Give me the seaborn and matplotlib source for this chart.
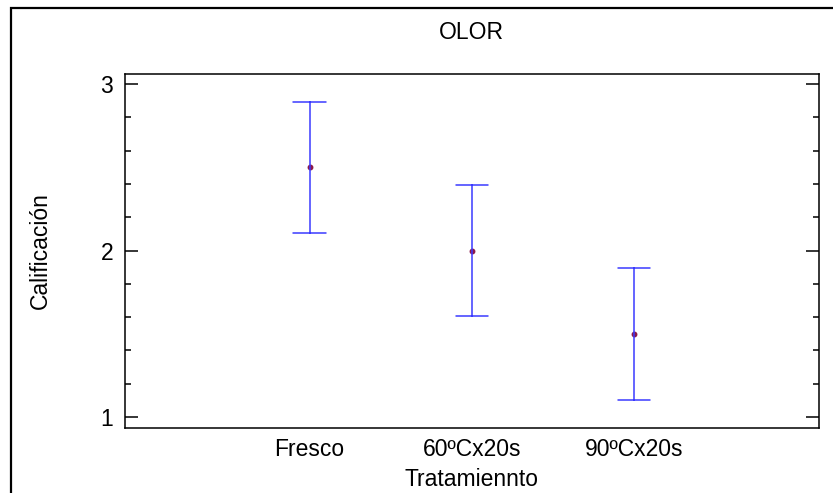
import matplotlib
matplotlib.use("Agg")
import matplotlib.pyplot as plt
import seaborn as sns
import pandas as pd
from matplotlib.patches import Rectangle
from matplotlib.ticker import MultipleLocator

categories = ["Fresco", "60ºCx20s", "90ºCx20s"]
means = [2.5, 2.0, 1.5]
lower = [2.105, 1.607, 1.105]
upper = [2.895, 2.393, 1.895]

rows = []
for c, lo, m, hi in zip(categories, lower, means, upper):
    for v in (lo, m, hi):
        rows.append({"Tratamiennto": c, "Calificación": v})
df = pd.DataFrame(rows)

sns.set_theme(style="white")
plt.rcParams["font.family"] = ["Liberation Sans", "DejaVu Sans"]
plt.rcParams["text.color"] = "black"
plt.rcParams["axes.labelcolor"] = "black"
plt.rcParams["xtick.color"] = "black"
plt.rcParams["ytick.color"] = "black"

FS = 16.5

fig = plt.figure(figsize=(8.33, 4.93), dpi=100)
ax = fig.add_axes([0.150, 0.1318, 0.8326, 0.718])

sns.pointplot(data=df, x="Tratamiennto", y="Calificación", order=categories,
              estimator="mean", errorbar=("pi", 100), capsize=0.2,
              linestyle="none", marker="o", markersize=2.2,
              color="#8b1a4a",
              err_kws={"color": "#3a3aff", "linewidth": 1.1}, ax=ax)

ax.set_xlim(-1.14, 3.14)
ax.set_ylim(0.934, 3.06)
ax.yaxis.set_major_locator(MultipleLocator(1))
ax.yaxis.set_minor_locator(MultipleLocator(0.2))
ax.tick_params(axis="y", which="major", direction="in", length=9.5, width=1.1,
               left=True, right=True, labelsize=FS, color="black", pad=8.5)
ax.tick_params(axis="y", which="minor", direction="in", length=4.0, width=1.1,
               left=True, right=True, color="black")
ax.tick_params(axis="x", length=0, labelsize=FS, pad=7.5)
for s in ax.spines.values():
    s.set_visible(True)
    s.set_color("black")
    s.set_linewidth(1.1)

ax.set_xlabel("Tratamiennto", fontsize=FS, labelpad=4.5)
ax.set_ylabel("Calificación", fontsize=FS, labelpad=35)
ax.set_title("OLOR", fontsize=FS, pad=25.5)

fig.patches.append(Rectangle((11/833, -0.1), 1.2, (493-8)/493 + 0.1,
                             transform=fig.transFigure, fill=False,
                             edgecolor="black", linewidth=1.6))

fig.savefig("out.png", dpi=100)
